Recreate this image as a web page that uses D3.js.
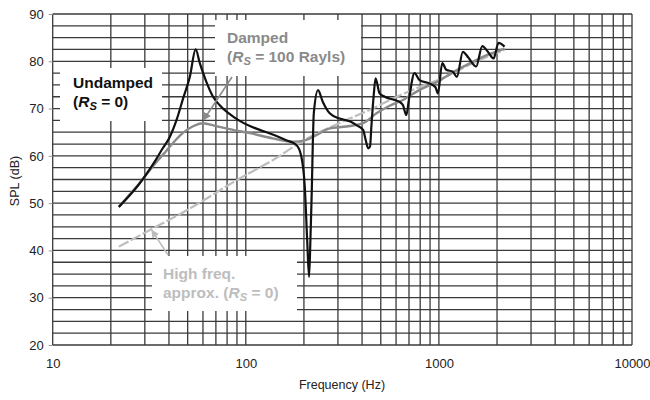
<!DOCTYPE html>
<html>
<head>
<meta charset="utf-8">
<script src="https://cdn.jsdelivr.net/npm/d3@7"></script>
<style>
  html, body { margin: 0; padding: 0; background: #fff; }
  svg { display: block; font-family: "Liberation Sans", Arial, sans-serif; }
</style>
</head>
<body>
<svg id="chart" width="650" height="400"></svg>
<script>
// Sound pressure level vs frequency: undamped, damped and high-frequency approximation
const undampedFreq = [22, 25, 28, 31, 34, 37, 40.4, 43.8, 47.4, 51.3, 55, 57.8, 62.7, 67.7, 73.3, 86, 93, 105, 118, 140, 162, 183, 194, 202, 208, 212.6, 216, 219, 225, 236.6, 250, 272, 306, 345, 374, 405, 418, 430, 440, 447, 460, 470, 493, 524, 590, 626, 652, 678, 700, 748, 794, 895, 960, 988, 1041, 1092, 1181, 1239, 1331, 1420, 1560, 1677, 1793, 1919, 2037, 2188];
const undampedSPL  = [49.2, 51.6, 54.0, 56.5, 59.0, 61.5, 64.0, 67.6, 72.2, 76.7, 82.5, 79.6, 75.5, 72.5, 70.7, 68.3, 67.4, 66.3, 65.5, 64.4, 63.3, 62.3, 59.8, 53.5, 42, 34.4, 42, 50.7, 69, 73.9, 71.5, 69.0, 67.9, 67.3, 66.5, 65.5, 63.3, 61.6, 62, 66.2, 73, 76.4, 73.2, 72.5, 71.8, 71.4, 70.7, 68.6, 72, 77.5, 76.0, 75.3, 74.5, 73.2, 79.6, 78.2, 77.8, 76.7, 82.0, 80.8, 78.9, 83.2, 82.0, 80.6, 83.9, 83.1];

const dampedFreq = [22, 25, 28, 31, 35, 39, 43, 47.4, 53, 60, 70, 86, 105, 138, 176, 200, 232, 272, 332, 405, 475, 556, 650, 700, 800, 900, 1000, 1100, 1300, 1500, 1700, 2000, 2188];
const dampedSPL  = [49.2, 51.8, 54.1, 56.4, 59.0, 61.2, 63.2, 64.9, 66.2, 66.9, 66.3, 65.5, 64.8, 63.7, 63.0, 63.2, 64.4, 65.8, 66.2, 66.9, 69.0, 70.6, 71.8, 72.6, 74.0, 75.0, 75.8, 76.9, 78.6, 79.9, 81.0, 82.1, 82.7];

const approxFreq = [22, 32.5, 50, 90, 150, 194, 300, 453, 556, 800, 1041, 1500, 2188];
const approxSPL  = [40.8, 44.5, 48.6, 54.9, 60.0, 63.0, 66.8, 70.0, 71.8, 74.6, 76.4, 79.6, 82.4];

const xTickValues = [10, 100, 1000, 10000];
const yTickValues = [20, 30, 40, 50, 60, 70, 80, 90];

const svg = d3.select("#chart");
const plotLeft = 52.7, plotRight = 632, plotTop = 14, plotBottom = 345;

const x = d3.scaleLog().domain([10, 10000]).range([plotLeft, plotRight]);
const y = d3.scaleLinear().domain([20, 90]).range([plotBottom, plotTop]);

const gridColor = "#3a3a3a";

// vertical grid: every 1..9 x decade
const xGrid = [];
for (let d = 10; d < 10000; d *= 10) for (let k = 1; k <= 9; k++) xGrid.push(k * d);
xGrid.push(10000);
// horizontal grid: every 2.5 dB
const yGrid = d3.range(20, 90.01, 2.5);

const grid = svg.append("g");
grid.selectAll("line.v").data(xGrid).join("line").attr("class", "v")
  .attr("x1", d => x(d)).attr("x2", d => x(d))
  .attr("y1", plotTop).attr("y2", plotBottom)
  .attr("stroke", gridColor).attr("stroke-width", 1.3);
grid.selectAll("line.h").data(yGrid).join("line").attr("class", "h")
  .attr("x1", plotLeft).attr("x2", plotRight)
  .attr("y1", d => y(d)).attr("y2", d => y(d))
  .attr("stroke", gridColor).attr("stroke-width", 1.3);

// white label backgrounds that hide the grid behind the annotations
const boxes = [
  {x0: 60, y0: 68, x1: 162, y1: 121},
  {x0: 215, y0: 20, x1: 361, y1: 76},
  {x0: 152, y0: 256, x1: 297, y1: 311}
];
svg.append("g").selectAll("rect").data(boxes).join("rect")
  .attr("x", d => d.x0).attr("y", d => d.y0)
  .attr("width", d => d.x1 - d.x0).attr("height", d => d.y1 - d.y0)
  .attr("fill", "#fff");

// axes tick labels
const xAxis = d3.axisBottom(x).tickValues(xTickValues).tickFormat(d3.format("d")).tickSize(0).tickPadding(14);
svg.append("g").attr("transform", `translate(0,${plotBottom})`).call(xAxis)
  .call(g => g.select(".domain").remove())
  .call(g => g.selectAll("text").attr("font-size", 13).attr("fill", "#222")
    .attr("font-family", "Liberation Sans, Arial, sans-serif"));

const yAxis = d3.axisLeft(y).tickValues(yTickValues).tickSize(4).tickPadding(5);
svg.append("g").attr("transform", `translate(${plotLeft},0)`).call(yAxis)
  .call(g => g.select(".domain").remove())
  .call(g => g.selectAll("line").attr("stroke", "#999"))
  .call(g => g.selectAll("text").attr("font-size", 13).attr("fill", "#222")
    .attr("font-family", "Liberation Sans, Arial, sans-serif"));

svg.append("text").attr("x", 342).attr("y", 389).attr("text-anchor", "middle")
  .attr("font-size", 12.5).attr("fill", "#222").text("Frequency (Hz)");
svg.append("text").attr("transform", "translate(19,181) rotate(-90)").attr("text-anchor", "middle")
  .attr("font-size", 12.5).attr("fill", "#222").text("SPL (dB)");

// curves
const line = d3.line().x(d => x(d[0])).y(d => y(d[1])).curve(d3.curveMonotoneX);
const zip = (a, b) => a.map((v, i) => [v, b[i]]);

svg.append("path").datum(zip(approxFreq, approxSPL)).attr("d", line)
  .attr("fill", "none").attr("stroke", "#bdbdbd").attr("stroke-width", 2.2)
  .attr("stroke-dasharray", "11,2.5");
svg.append("path").datum(zip(dampedFreq, dampedSPL)).attr("d", line)
  .attr("fill", "none").attr("stroke", "#8a8a8a").attr("stroke-width", 2.4)
  .attr("stroke-linejoin", "round");
svg.append("path").datum(zip(undampedFreq, undampedSPL)).attr("d", line)
  .attr("fill", "none").attr("stroke", "#111").attr("stroke-width", 2.2)
  .attr("stroke-linejoin", "round");

// pointer arrows
const defs = svg.append("defs");
function marker(id, color) {
  defs.append("marker").attr("id", id).attr("viewBox", "0 0 10 10")
    .attr("refX", 9).attr("refY", 5).attr("markerWidth", 5).attr("markerHeight", 5)
    .attr("orient", "auto").attr("markerUnits", "strokeWidth")
    .append("path").attr("d", "M0,0 L10,5 L0,10 z").attr("fill", color);
}
marker("arrDamped", "#8a8a8a");
marker("arrApprox", "#bdbdbd");
svg.append("line").attr("x1", 232).attr("y1", 77).attr("x2", x(60.5)).attr("y2", y(67.6))
  .attr("stroke", "#8a8a8a").attr("stroke-width", 1.6).attr("marker-end", "url(#arrDamped)");
svg.append("line").attr("x1", 168).attr("y1", 255).attr("x2", x(32.6)).attr("y2", y(44.3))
  .attr("stroke", "#bdbdbd").attr("stroke-width", 1.6).attr("marker-end", "url(#arrApprox)");

// annotation labels
function rsLabel(sel, prefix, tail) {
  sel.append("tspan").text(prefix + "(");
  sel.append("tspan").attr("font-style", "italic").text("R");
  sel.append("tspan").attr("font-style", "italic").attr("font-size", "0.72em").attr("dy", 3).text("S");
  sel.append("tspan").attr("dy", -3).text(" = " + tail + ")");
}
function label(x0, y0, color, first, prefix, tail) {
  const g = svg.append("g").attr("font-weight", "bold").attr("font-size", 15.5).attr("fill", color);
  g.append("text").attr("x", x0).attr("y", y0).text(first);
  rsLabel(g.append("text").attr("x", x0).attr("y", y0 + 19), prefix, tail);
}
label(73, 88, "#111", "Undamped", "", "0");
label(227, 43, "#8a8a8a", "Damped", "", "100 Rayls");
label(163, 279, "#bdbdbd", "High freq.", "approx. ", "0");
</script>
</body>
</html>
